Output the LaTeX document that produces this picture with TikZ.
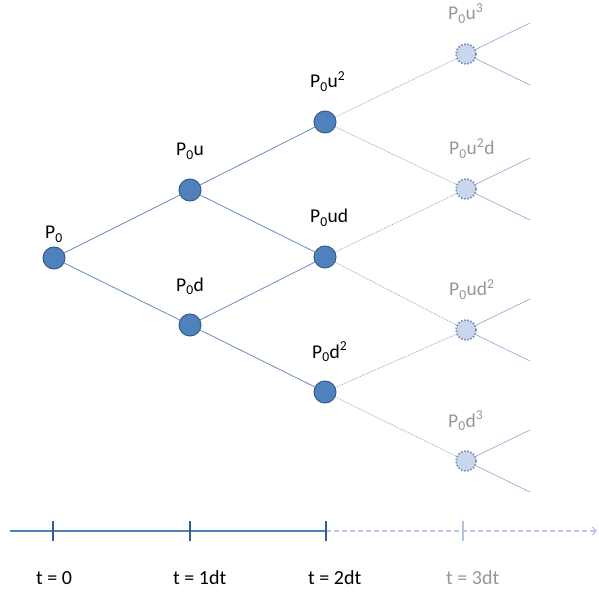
\documentclass[tikz,border=0pt]{standalone}
\usepackage{fontspec}
\setmainfont{Carlito}
\usetikzlibrary{
  positioning,
  arrows.meta
}
\definecolor{nodecolor}{RGB}{79,129,189}
\definecolor{nodeborder}{RGB}{56,93,138}
\definecolor{edgecolor}{RGB}{105,140,192}
\definecolor{futurecolor}{RGB}{140,165,205}
\definecolor{futuredot}{RGB}{120,140,175}
\definecolor{futurefill}{RGB}{200,215,236}
\definecolor{futuretext}{RGB}{150,150,150}
\tikzset{
  price/.style={
    circle,
    draw=nodeborder,
    fill=nodecolor,
    line width=1pt,
    minimum size=22pt,
    inner sep=0pt
  },
  future/.style={
    circle,
    draw=futuredot,
    fill=futurefill,
    dash pattern=on 1.6pt off 1.6pt,
    line width=1.6pt,
    minimum size=20pt,
    inner sep=0pt
  },
  edge/.style={
    line width=0.8pt,
    color=edgecolor
  },
  futureedge/.style={
    line width=0.8pt,
    color=futurecolor,
    densely dotted
  },
  lbl/.style={
    anchor=base west,
    font=\fontsize{19.5}{22}\selectfont,
    inner sep=0pt
  },
  timelbl/.style={
    anchor=west,
    font=\fontsize{20}{24}\selectfont,
    inner sep=0pt
  }
}

\begin{document}
\begin{tikzpicture}[x=1pt,y=1pt]
  \useasboundingbox (0,0) rectangle (599,595);

  % Known prices
  \node[price] (p0) at (54,337) {};
  \node[price] (pu) at (190,405) {};
  \node[price] (pd) at (190,270) {};
  \node[price] (puu) at (325,473) {};
  \node[price] (pud) at (325,338) {};
  \node[price] (pdd) at (325,203) {};

  % Next step (not yet known)
  \node[future] (puuu) at (466,541) {};
  \node[future] (puud) at (466,406) {};
  \node[future] (pudd) at (466,265) {};
  \node[future] (pddd) at (466,134) {};

  % Labels
  \node[lbl, xshift=-9pt, yshift=19pt] at (p0) {P\textsubscript{0}};
  \node[lbl, xshift=-14pt, yshift=34pt] at (pu) {P\textsubscript{0}u};
  \node[lbl, xshift=-14pt, yshift=34pt] at (pd) {P\textsubscript{0}d};
  \node[lbl, xshift=-15pt, yshift=34pt] at (puu) {P\textsubscript{0}u\textsuperscript{2}};
  \node[lbl, xshift=-15pt, yshift=34pt] at (pud) {P\textsubscript{0}ud};
  \node[lbl, xshift=-13pt, yshift=34pt] at (pdd) {P\textsubscript{0}d\textsuperscript{2}};
  \node[lbl, text=futuretext, xshift=-18pt, yshift=34pt] at (puuu) {P\textsubscript{0}u\textsuperscript{3}};
  \node[lbl, text=futuretext, xshift=-17pt, yshift=34pt] at (puud) {P\textsubscript{0}u\textsuperscript{2}d};
  \node[lbl, text=futuretext, xshift=-17pt, yshift=34pt] at (pudd) {P\textsubscript{0}ud\textsuperscript{2}};
  \node[lbl, text=futuretext, xshift=-18pt, yshift=34pt] at (pddd) {P\textsubscript{0}d\textsuperscript{3}};

  % Tree edges
  \draw[edge] (p0) -- (pu);
  \draw[edge] (p0) -- (pd);
  \draw[edge] (pu) -- (puu);
  \draw[edge] (pu) -- (pud);
  \draw[edge] (pd) -- (pud);
  \draw[edge] (pd) -- (pdd);

  \draw[futureedge] (puu) -- (puuu);
  \draw[futureedge] (puu) -- (puud);
  \draw[futureedge] (pud) -- (puud);
  \draw[futureedge] (pud) -- (pudd);
  \draw[futureedge] (pdd) -- (pudd);
  \draw[futureedge] (pdd) -- (pddd);

  % Loose ends
  \foreach \n in {puuu,puud,pudd,pddd} {
    \coordinate (\n-up) at ([xshift=64pt,yshift=31pt]\n.center);
    \coordinate (\n-dn) at ([xshift=64pt,yshift=-31pt]\n.center);
    \draw[edge, line width=0.6pt, color=futurecolor] (\n) -- (\n-up);
    \draw[edge, line width=0.6pt, color=futurecolor] (\n) -- (\n-dn);
  }

  % Time axis
  \coordinate (start) at (10,64);
  \coordinate (t0) at (53,64);
  \coordinate (t1) at (190,64);
  \coordinate (t2) at (326,64);
  \coordinate (t3) at (463,64);
  \coordinate (stop) at (597,64);
  \draw[line width=1.4pt, nodecolor] (start) -- (t2);
  \draw[line width=1.2pt, futurefill!70!futurecolor, dashed,
        dash pattern=on 5pt off 3pt, -{Straight Barb[length=4pt]}] (t2) -- (stop);
  \foreach \t in {t0,t1,t2} {
    \draw[line width=1.2pt, nodeborder] ([yshift=10pt]\t) -- ([yshift=-10pt]\t);
  }
  \draw[line width=1.2pt, futurefill!60!futurecolor] ([yshift=10pt]t3) -- ([yshift=-10pt]t3);

  \node[timelbl, xshift=-17pt] (l0) at (53,17) {t = 0};
  \node[timelbl, xshift=-17pt] (l1) at (190,17) {t = 1dt};
  \node[timelbl, xshift=-18pt] (l2) at (326,17) {t = 2dt};
  \node[timelbl, xshift=-17pt, text=futuretext] (l3) at (463,17) {t = 3dt};

\end{tikzpicture}
\end{document}
